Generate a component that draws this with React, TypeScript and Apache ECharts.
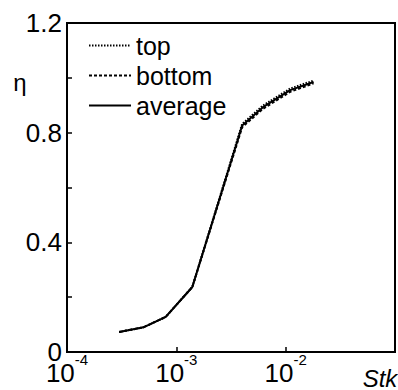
import React, { useEffect, useRef } from "react";
import * as echarts from "echarts";

const stk = [3e-4, 5e-4, 8e-4, 1.4e-3, 4e-3, 6.2e-3, 1.1e-2, 1.8e-2];
const avgEta = [0.073, 0.09, 0.128, 0.237, 0.826, 0.893, 0.955, 0.985];
const topEta = [0.073, 0.09, 0.128, 0.237, 0.832, 0.899, 0.961, 0.99];
const bottomEta = [0.073, 0.09, 0.128, 0.237, 0.82, 0.887, 0.949, 0.98];
const seriesNames = ["top", "bottom", "average"];
const xLabelExp: Record<string, string> = { "0.0001": "-4", "0.001": "-3", "0.01": "-2" };

const FONT = "Liberation Sans, Arial, sans-serif";

export default function App() {
  const ref = useRef<HTMLDivElement>(null);
  useEffect(() => {
    const chart = echarts.init(ref.current!, undefined, { renderer: "svg" });
    const mk = (ys: number[]) => stk.map((x, i) => [x, ys[i]]);
    chart.setOption({
      animation: false,
      grid: {
        left: 67, right: 3, top: 23, bottom: 38,
        show: true, borderColor: "#000", borderWidth: 2, containLabel: false,
      },
      legend: {
        left: 88, top: 31, orient: "vertical", padding: 0,
        itemWidth: 42, itemHeight: 14, itemGap: 1,
        itemStyle: { opacity: 0 },
        textStyle: { fontFamily: FONT, fontSize: 25, color: "#000", lineHeight: 29 },
        data: seriesNames,
      },
      xAxis: {
        type: "log", logBase: 10, min: 1e-4, max: 1e-1,
        axisLine: { show: true, lineStyle: { color: "#000", width: 2 } },
        axisTick: { show: true, inside: true, length: 5, lineStyle: { color: "#000", width: 1.5 } },
        minorTick: { show: false },
        splitLine: { show: false },
        axisLabel: {
          margin: 0,
          formatter: (v: number) => {
            const key = String(Number(v.toPrecision(3)));
            const e = xLabelExp[key];
            return e ? `{b|10}{s|${e}}` : "";
          },
          rich: {
            b: { fontFamily: FONT, fontSize: 26, color: "#000", lineHeight: 34, verticalAlign: "bottom" },
            s: { fontFamily: FONT, fontSize: 15, color: "#000", lineHeight: 20, verticalAlign: "top" },
          },
        },
      },
      yAxis: {
        type: "value", min: 0, max: 1.2, interval: 0.2,
        axisLine: { show: true, lineStyle: { color: "#000", width: 2 } },
        axisTick: { show: true, inside: true, length: 5, lineStyle: { color: "#000", width: 1.5 } },
        splitLine: { show: false },
        axisLabel: {
          margin: 5, fontFamily: FONT, fontSize: 26, color: "#000", lineHeight: 12,
          formatter: (v: number) => {
            const r = Math.round(v * 10);
            if (r % 4 !== 0) return "";
            return r === 0 ? "0" : (r / 10).toFixed(1);
          },
        },
      },
      graphic: [
        { type: "text", x: 20, y: 82, style: { text: "η", font: `24px ${FONT}`, fill: "#000", textAlign: "center", textVerticalAlign: "middle" } },
        { type: "text", x: 380, y: 378, style: { text: "Stk", font: `italic 24px ${FONT}`, fill: "#000", textAlign: "center", textVerticalAlign: "middle" } },
      ],
      series: [
        { name: "top", type: "line", data: mk(topEta), symbol: "none", lineStyle: { color: "#000", width: 2, type: [1.5, 1.5] } },
        { name: "bottom", type: "line", data: mk(bottomEta), symbol: "none", lineStyle: { color: "#000", width: 2, type: [3, 2] } },
        { name: "average", type: "line", data: mk(avgEta), symbol: "none", lineStyle: { color: "#000", width: 2, type: "solid" } },
      ],
    });
    return () => chart.dispose();
  }, []);
  return <div ref={ref} style={{ width: 398, height: 390, position: "absolute", left: 0, top: 0 }} />;
}
